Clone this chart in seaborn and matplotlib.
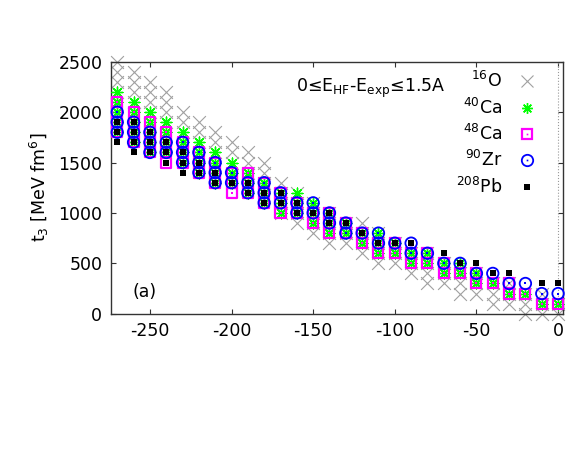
import matplotlib
matplotlib.use("Agg")
import matplotlib.pyplot as plt
from matplotlib.lines import Line2D
import pandas as pd
import seaborn as sns

# t0 columns of the scan (x axis)
t0 = [-270, -260, -250, -240, -230, -220, -210, -200, -190, -180,
      -170, -160, -150, -140, -130, -120, -110, -100, -90, -80,
      -70, -60, -50, -40, -30, -20, -10, 0]

# accepted t3 values for every t0 column, one list per nucleus
o16 = [
    [2200, 2300, 2400, 2500], [2100, 2200, 2300, 2400], [2000, 2100, 2200, 2300],
    [1900, 2000, 2100, 2200], [1800, 1900, 2000], [1700, 1800, 1900],
    [1600, 1700, 1800], [1500, 1600, 1700], [1400, 1500, 1600],
    [1300, 1400, 1500], [1000, 1100, 1200, 1300], [900, 1000, 1100, 1200],
    [800, 900, 1000, 1100], [700, 800, 900, 1000], [700, 800, 900],
    [600, 700, 800, 900], [500, 600, 700, 800], [500, 600, 700],
    [400, 500, 600], [300, 400, 500, 600], [300, 400, 500],
    [200, 300, 400], [200, 300, 400], [100, 200, 300],
    [100, 200, 300], [0, 100, 200], [0, 100, 200], [0, 100],
]
ca40 = [
    [1800, 1900, 2000, 2100, 2200], [1700, 1800, 1900, 2000, 2100], [1600, 1700, 1800, 1900, 2000],
    [1600, 1700, 1800, 1900], [1500, 1600, 1700, 1800], [1400, 1500, 1600, 1700],
    [1300, 1400, 1500, 1600], [1300, 1400, 1500], [1200, 1300, 1400],
    [1100, 1200, 1300], [1000, 1100, 1200], [1000, 1100, 1200],
    [900, 1000, 1100], [800, 900, 1000], [800, 900],
    [700, 800], [600, 700, 800], [600, 700],
    [500, 600], [500, 600], [400, 500],
    [400, 500], [300, 400], [300],
    [200], [200], [100], [100],
]
ca48 = [
    [1800, 1900, 2000, 2100], [1700, 1800, 1900, 2000], [1600, 1700, 1800, 1900],
    [1500, 1600, 1700, 1800], [1500, 1600, 1700], [1400, 1500, 1600],
    [1300, 1400, 1500], [1200, 1300, 1400], [1200, 1300, 1400],
    [1100, 1200, 1300], [1000, 1100, 1200], [1000, 1100],
    [900, 1000], [800, 900, 1000], [800, 900],
    [700, 800], [600, 700], [600, 700],
    [500, 600], [500, 600], [400, 500],
    [400], [300, 400], [300],
    [200, 300], [200], [100], [100],
]
zr90 = [
    [1800, 1900, 2000], [1700, 1800, 1900], [1600, 1700, 1800],
    [1600, 1700], [1500, 1600, 1700], [1400, 1500, 1600],
    [1300, 1400, 1500], [1300, 1400], [1200, 1300],
    [1100, 1200, 1300], [1100, 1200], [1000, 1100],
    [1000, 1100], [900, 1000], [800, 900],
    [800], [700, 800], [700],
    [600, 700], [600], [500],
    [500], [400], [400],
    [300], [300], [200], [200],
]
pb208 = [
    [1700, 1800, 1900], [1600, 1700, 1800, 1900], [1600, 1700, 1800],
    [1500, 1600, 1700], [1400, 1500, 1600], [1400, 1500],
    [1300, 1400], [1300], [1200, 1300],
    [1100, 1200], [1100, 1200], [1000, 1100],
    [1000], [900, 1000], [900],
    [800], [700], [700],
    [700], [], [600],
    [500], [500], [400],
    [400], [], [300], [300],
]

labels = ["$^{16}$O", "$^{40}$Ca", "$^{48}$Ca", "$^{90}$Zr", "$^{208}$Pb"]


def to_frame(cols):
    rows = [(x, y) for x, ys in zip(t0, cols) for y in ys]
    return pd.DataFrame(rows, columns=["t0", "t3"])


sns.set_style("ticks")
plt.rcParams["font.family"] = ["DejaVu Sans"]
plt.rcParams["mathtext.fontset"] = "dejavusans"
plt.rcParams["axes.unicode_minus"] = False
plt.rcParams["text.color"] = "black"
plt.rcParams["axes.labelcolor"] = "black"
plt.rcParams["xtick.labelcolor"] = "black"
plt.rcParams["ytick.labelcolor"] = "black"

FS = 12.5

fig = plt.figure(figsize=(5.81, 4.49), dpi=100)
ax = fig.add_axes([0.1905, 0.3013, 0.7785, 0.5612])

gray, green, magenta, blue = "#a0a0a0", "#00ff00", "#ff00ff", "#0000ff"

d = to_frame(o16)
sns.scatterplot(data=d, x="t0", y="t3", ax=ax, marker="x", s=85,
                color=gray, linewidth=0.8, clip_on=False, zorder=2)
d = to_frame(ca40)
sns.scatterplot(data=d, x="t0", y="t3", ax=ax, marker=(8, 2, 0), s=60,
                color=green, linewidth=1.0, clip_on=False, zorder=3)
d = to_frame(ca48)
sns.scatterplot(data=d, x="t0", y="t3", ax=ax, marker="s", s=52,
                facecolor="none", edgecolor=magenta, linewidth=1.6,
                clip_on=False, zorder=4)
sns.scatterplot(data=d, x="t0", y="t3", ax=ax, marker="s", s=1.5,
                color=magenta, linewidth=0, clip_on=False, zorder=4)
d = to_frame(zr90)
sns.scatterplot(data=d, x="t0", y="t3", ax=ax, marker="o", s=68,
                facecolor="none", edgecolor=blue, linewidth=1.3,
                clip_on=False, zorder=5)
sns.scatterplot(data=d, x="t0", y="t3", ax=ax, marker="s", s=1.5,
                color=blue, linewidth=0, clip_on=False, zorder=5)
d = to_frame(pb208)
sns.scatterplot(data=d, x="t0", y="t3", ax=ax, marker="s", s=15,
                color="black", linewidth=0, clip_on=False, zorder=6)

ax.axvline(0, color="#999999", ls=":", lw=0.8, zorder=1)

ax.set_xlim(-274, 3)
ax.set_ylim(0, 2500)
ax.set_xticks([-250, -200, -150, -100, -50, 0])
ax.set_yticks([0, 500, 1000, 1500, 2000, 2500])
ax.tick_params(direction="in", top=True, right=True, length=3.6,
               width=0.8, color="#333333", labelsize=FS, pad=6)
for sp in ax.spines.values():
    sp.set_color("#333333")
    sp.set_linewidth(1.0)
ax.set_xlabel("")
ax.set_ylabel("t$_3$ [MeV fm$^6$]", fontsize=FS, labelpad=5)

ax.text(0.575, 0.896, "0≤E$_{\\mathrm{HF}}$-E$_{\\mathrm{exp}}$≤1.5A",
        transform=ax.transAxes, fontsize=FS, ha="center", va="center")
ax.text(0.076, 0.085, "(a)", transform=ax.transAxes, fontsize=FS,
        ha="center", va="center")

handles = [
    Line2D([], [], ls="none", marker="x", ms=9.2, mew=0.8, color=gray),
    Line2D([], [], ls="none", marker=(8, 2, 0), ms=7.7, mew=1.0, color=green),
    (Line2D([], [], ls="none", marker="s", ms=7.2, mew=1.6, mfc="none", mec=magenta),
     Line2D([], [], ls="none", marker="s", ms=1.2, mew=0, color=magenta)),
    (Line2D([], [], ls="none", marker="o", ms=8.2, mew=1.3, mfc="none", mec=blue),
     Line2D([], [], ls="none", marker="s", ms=1.2, mew=0, color=blue)),
    Line2D([], [], ls="none", marker="s", ms=3.9, mew=0, color="black"),
]
ax.legend(handles, labels, loc="upper right", bbox_to_anchor=(0.958, 0.99),
          markerfirst=False, frameon=False, fontsize=FS, labelspacing=0.36,
          handlelength=1.2, handletextpad=0.8, borderaxespad=0)

fig.savefig("out.png", dpi=100)
